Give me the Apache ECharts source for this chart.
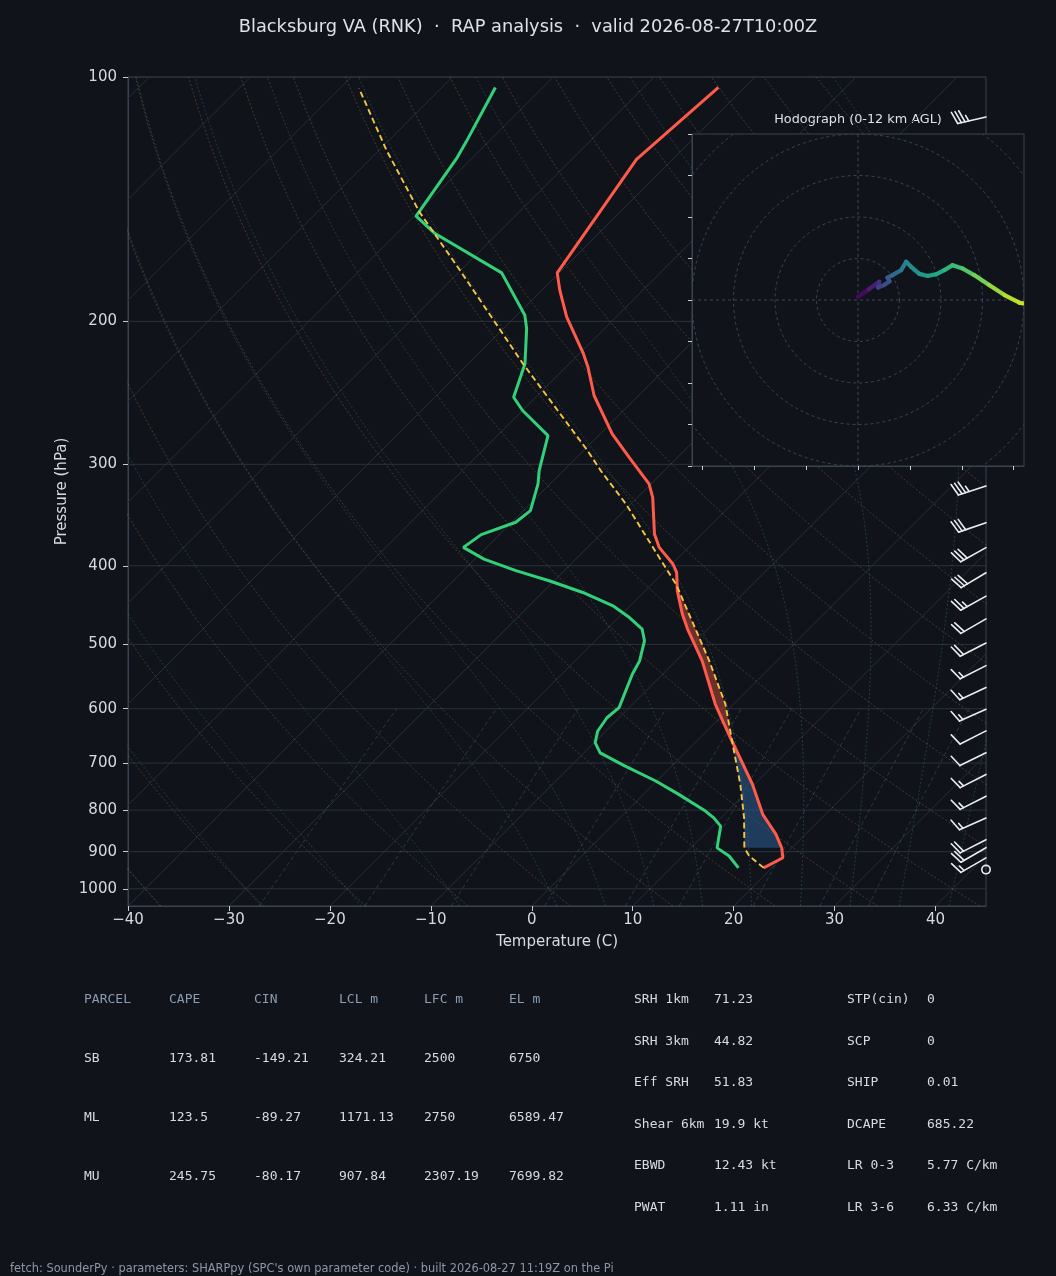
<!DOCTYPE html>
<html>
<head>
<meta charset="utf-8">
<title>Blacksburg VA (RNK) - RAP analysis</title>
<script src="https://cdn.jsdelivr.net/npm/echarts@6/dist/echarts.min.js"></script>
<style>
  html, body { margin: 0; padding: 0; background: #10141a; }
  #chart { width: 1056px; height: 1276px; }
</style>
</head>
<body>
<div id="chart"></div>
<script>
// skew-T / log-p sounding with hodograph inset

// temperature profile (hPa / °C)
const tempP = [942.4, 915.7, 890.4, 857.0, 809.6, 743.4, 645.1, 592.5, 523.9, 478.7, 458.8, 429.5, 407.6, 398.0,
               379.7, 365.5, 329.5, 317.1, 294.1, 275.2, 246.8, 227.8, 219.2, 197.5, 183.2, 174.3, 126.3, 103.0];
const tempT = [19.2, 20.1, 19.0, 17.1, 13.8, 9.8, 2.5, -1.8, -7.4, -12.0, -14.0, -16.8, -18.7, -19.9,
               -22.9, -24.7, -28.5, -30.2, -34.8, -38.8, -44.4, -47.8, -49.6, -54.9, -58.2, -60.2, -63.6, -62.6];

// dewpoint profile
const dewP = [942.4, 911.3, 890.4, 837.2, 817.7, 802.2, 765.0, 736.6, 706.2, 680.0, 660.7, 639.2, 615.6, 598.3,
              544.1, 523.9, 495.0, 478.7, 463.3, 448.1, 431.5, 417.4, 405.6, 392.5, 379.7, 366.2, 353.6, 342.1,
              317.1, 305.4, 276.5, 257.5, 248.0, 225.5, 204.2, 196.6, 174.3, 155.9, 148.4, 126.0, 120.2, 103.0];
const dewT = [16.7, 14.6, 12.6, 10.8, 9.3, 7.8, 3.5, -0.1, -4.6, -8.4, -9.9, -10.8, -11.2, -11.0,
              -13.0, -13.6, -15.1, -16.5, -18.9, -21.7, -26.0, -30.5, -34.8, -39.1, -42.3, -41.8, -39.6, -39.3,
              -41.2, -42.4, -45.0, -50.0, -52.2, -54.4, -57.7, -59.2, -65.7, -76.2, -79.8, -81.5, -82.2, -84.7];

// surface parcel path
const parcelP = [942.4, 911.3, 890.4, 817.7, 743.4, 657.6, 592.5, 523.9, 490.4, 421.4, 390.7, 335.7, 305.4,
                 288.5, 225.5, 173.0, 146.6, 123.0, 103.3];
const parcelT = [19.2, 16.6, 15.3, 12.3, 8.6, 3.5, -0.8, -6.7, -10.0, -17.6, -21.9, -30.5, -36.3,
                 -39.6, -54.6, -70.1, -79.9, -89.3, -98.1];

// shaded layers [bottom hPa, top hPa]
const cinLayer = [890.4, 650];
const capeLayer = [650, 421.4];

// wind barbs (hPa, kt, deg)
const barbP = [112, 319, 354, 380, 408, 436, 465, 498, 531, 565, 601, 639, 680, 723, 769, 818, 870, 890, 916, 947];
const barbSpd = [35, 35, 30, 30, 30, 25, 20, 20, 15, 15, 15, 10, 10, 15, 15, 15, 20, 20, 15, 0];
const barbDir = [257, 252, 251, 241, 239, 241, 240, 243, 243, 245, 246, 243, 244, 243, 243, 246, 243, 240, 240, 0];

// hodograph (u, v) with height km
const hodoU = [0, 2.6, 5.1, 4.8, 6.3, 7.6, 7.1, 8.3, 10.4, 11.6, 12.8, 14.8, 16.8, 18.8, 20.8, 22.8, 25.2, 28.0, 31.6, 35.3, 38.9, 39.7];
const hodoV = [0.8, 2.6, 4.4, 3.0, 3.6, 4.5, 5.4, 6.0, 7.2, 9.2, 8.0, 6.3, 5.8, 6.2, 7.2, 8.4, 7.6, 6.0, 3.6, 1.2, -0.65, -0.8];
const hodoH = [0, 0.6, 1.4, 2.0, 2.5, 2.9, 3.2, 3.6, 4.5, 5.3, 5.7, 6.2, 6.6, 7.0, 7.4, 8.0, 8.5, 9.1, 9.8, 10.4, 10.9, 11.0];
const hodoRings = [10, 20, 30, 40, 50, 60];
const hodoXTicks = [-37.5, -25, -12.5, 0, 12.5, 25, 37.5];

// axis ticks
const pressureTicks = [100, 200, 300, 400, 500, 600, 700, 800, 900, 1000];
const tempTicks = [-40, -30, -20, -10, 0, 10, 20, 30, 40];

// reference lines
const isoTherms = [-130, -120, -110, -100, -90, -80, -70, -60, -50, -40, -30, -20, -10, 0, 10, 20, 30, 40];
const dryT0 = [-40, -30, -20, -10, 0, 10, 20, 30, 40, 50, 60, 70, 80, 90, 100, 110, 120, 130, 140, 150];
const moistT0 = [-40, -30, -20, -10, 0, 5, 10, 15, 20, 25, 30, 35, 40, 45];
const mixRatios = [0.0004, 0.001, 0.002, 0.004, 0.007, 0.01, 0.016, 0.024, 0.032];

// table text
const parcelHeader = ['PARCEL', 'CAPE', 'CIN', 'LCL m', 'LFC m', 'EL m'];
const parcelRows = [
    ['SB', '173.81', '-149.21', '324.21', '2500', '6750'],
    ['ML', '123.5', '-89.27', '1171.13', '2750', '6589.47'],
    ['MU', '245.75', '-80.17', '907.84', '2307.19', '7699.82']
];
const paramNamesA = ['SRH 1km', 'SRH 3km', 'Eff SRH', 'Shear 6km', 'EBWD', 'PWAT'];
const paramValuesA = ['71.23', '44.82', '51.83', '19.9 kt', '12.43 kt', '1.11 in'];
const paramNamesB = ['STP(cin)', 'SCP', 'SHIP', 'DCAPE', 'LR 0-3', 'LR 3-6'];
const paramValuesB = ['0', '0', '0.01', '685.22', '5.77 C/km', '6.33 C/km'];

const titleText = 'Blacksburg VA (RNK)  \u00b7  RAP analysis  \u00b7  valid 2026-08-27T10:00Z';
const footerText = 'fetch: SounderPy \u00b7 parameters: SHARPpy (SPC\'s own parameter code) \u00b7 built 2026-08-27 11:19Z on the Pi';

// layout / style
const BG = '#10141a';
const SPINE = '#3a4350';
const TXT = '#d6dbe1';
const MAIN = { left: 128, top: 77, width: 858, height: 829 };
const HODO = { left: 692, top: 134, width: 332, height: 332 };
const P_TOP = 100, P_BOT = 1050, T_MIN = -40, T_MAX = 45;
// 45 degree skew: °C shift per decade of pressure
const SKEW = (MAIN.height / Math.log10(P_BOT / P_TOP)) / (MAIN.width / (T_MAX - T_MIN));

function skewPt(t, p) {
    return [t + SKEW * Math.log10(P_BOT / p), Math.log10(p)];
}

// pressure levels for reference curves
const refLevels = [];
for (let p = P_BOT; p >= P_TOP; p -= 10) refLevels.push(p);

function satVap(tK) {
    const tc = tK - 273.15;
    return 6.112 * Math.exp(17.67 * tc / (tc + 243.5));
}

function moistLapse(p, tK) {
    const es = satVap(tK);
    const rs = 0.622 * es / (p - es);
    const num = (287.04 * tK + 2.501e6 * rs) / p;
    const den = 1005.7 + (2.501e6 * 2.501e6 * rs * 0.622) / (287.04 * tK * tK);
    return num / den;
}

function moistPath(t0) {
    const step = 5;
    const up = [];
    let t = t0 + 273.15;
    for (let p = 1000; p > P_TOP - 1; p -= step) {
        up.push([t - 273.15, p]);
        const k1 = moistLapse(p, t);
        const k2 = moistLapse(p - step / 2, t - step / 2 * k1);
        const k3 = moistLapse(p - step / 2, t - step / 2 * k2);
        const k4 = moistLapse(p - step, t - step * k3);
        t -= step * (k1 + 2 * k2 + 2 * k3 + k4) / 6;
    }
    const down = [];
    t = t0 + 273.15;
    for (let p = 1000; p < P_BOT; p += step) {
        const k1 = moistLapse(p, t);
        const k2 = moistLapse(p + step / 2, t + step / 2 * k1);
        const k3 = moistLapse(p + step / 2, t + step / 2 * k2);
        const k4 = moistLapse(p + step, t + step * k3);
        t += step * (k1 + 2 * k2 + 2 * k3 + k4) / 6;
        down.push([t - 273.15, p + step]);
    }
    return down.reverse().concat(up);
}

function refSeries(points, color, dash) {
    return {
        type: 'line',
        xAxisIndex: 0,
        yAxisIndex: 0,
        data: points.map(d => skewPt(d[0], d[1])),
        symbol: 'none',
        silent: true,
        animation: false,
        clip: true,
        z: 1,
        lineStyle: { color: color, width: 1, type: dash }
    };
}

const series = [];

// isotherms
isoTherms.forEach(t => {
    series.push(refSeries([[t, P_BOT], [t, P_TOP]], '#262e38', 'solid'));
});

// pressure lines
pressureTicks.forEach(p => {
    series.push({
        type: 'line', data: [[T_MIN, Math.log10(p)], [T_MAX, Math.log10(p)]],
        symbol: 'none', silent: true, animation: false, z: 1,
        lineStyle: { color: '#29313b', width: 1 }
    });
});

// dry adiabats
dryT0.forEach(t0 => {
    const theta = t0 + 273.15;
    const pts = refLevels.map(p => [theta * Math.pow(p / 1000, 0.2857) - 273.15, p]);
    series.push(refSeries(pts, 'rgba(196,134,76,0.32)', [2, 2]));
});

// moist adiabats
moistT0.forEach(t0 => {
    series.push(refSeries(moistPath(t0), 'rgba(70,150,165,0.30)', [2, 2]));
});

// mixing ratio lines
mixRatios.forEach(w => {
    const pts = [];
    for (let p = P_BOT; p >= 600; p -= 10) {
        const e = w * p / (0.622 + w);
        const l = Math.log(e / 6.112);
        pts.push([243.5 * l / (17.67 - l), p]);
    }
    series.push(refSeries(pts, 'rgba(95,135,165,0.32)', [4, 3]));
});

// interpolate a profile in log-p
function interpLogP(P, T, p) {
    for (let i = 0; i < P.length - 1; i++) {
        if (p <= P[i] && p >= P[i + 1]) {
            const f = (Math.log(p) - Math.log(P[i])) / (Math.log(P[i + 1]) - Math.log(P[i]));
            return T[i] + f * (T[i + 1] - T[i]);
        }
    }
    return NaN;
}

function layerPath(P, T, pBot, pTop) {
    const out = [[interpLogP(P, T, pBot), pBot]];
    P.forEach((p, i) => { if (p < pBot && p > pTop) out.push([T[i], p]); });
    out.push([interpLogP(P, T, pTop), pTop]);
    return out;
}

// CIN / CAPE shading
series.push({
    type: 'custom',
    xAxisIndex: 0,
    yAxisIndex: 0,
    clip: true,
    silent: true,
    animation: false,
    z: 3,
    data: [[cinLayer[0], cinLayer[1], 0], [capeLayer[0], capeLayer[1], 1]],
    renderItem: (params, api) => {
        const pBot = api.value(0), pTop = api.value(1), kind = api.value(2);
        const parcel = layerPath(parcelP, parcelT, pBot, pTop);
        const env = layerPath(tempP, tempT, pBot, pTop).reverse();
        const pts = parcel.concat(env).map(d => api.coord(skewPt(d[0], d[1])));
        return {
            type: 'polygon',
            shape: { points: pts },
            style: { fill: kind === 0 ? 'rgba(46,92,150,0.55)' : 'rgba(215,85,60,0.45)', stroke: 'none' }
        };
    }
});

// temperature, dewpoint, parcel
series.push({
    type: 'line', name: 'Temperature',
    data: tempP.map((p, i) => skewPt(tempT[i], p)),
    symbol: 'none', silent: true, animation: false, z: 6,
    lineStyle: { color: '#ff5a4a', width: 3 }
});
series.push({
    type: 'line', name: 'Dewpoint',
    data: dewP.map((p, i) => skewPt(dewT[i], p)),
    symbol: 'none', silent: true, animation: false, z: 6,
    lineStyle: { color: '#33d07a', width: 3 }
});
series.push({
    type: 'line', name: 'Parcel',
    data: parcelP.map((p, i) => skewPt(parcelT[i], p)),
    symbol: 'none', silent: true, animation: false, z: 7,
    lineStyle: { color: '#f5c542', width: 1.9, type: [6, 3.5] }
});

// wind barbs on the right edge
const BARB_LEN = 29;
series.push({
    type: 'custom',
    xAxisIndex: 0,
    yAxisIndex: 0,
    clip: false,
    silent: true,
    animation: false,
    z: 8,
    data: barbP.map((p, i) => [T_MAX, Math.log10(p), barbSpd[i], barbDir[i]]),
    renderItem: (params, api) => {
        const base = api.coord([api.value(0), api.value(1)]);
        const spd = api.value(2);
        const rad = api.value(3) * Math.PI / 180;
        const style = { stroke: '#e9edf1', lineWidth: 1.6, fill: 'none', lineCap: 'round' };
        if (spd < 2.5) {
            return { type: 'circle', shape: { cx: base[0], cy: base[1], r: 4.2 }, style: style };
        }
        const sxv = Math.sin(rad), syv = -Math.cos(rad);
        const nx = -syv, ny = sxv;
        const tip = [base[0] + sxv * BARB_LEN, base[1] + syv * BARB_LEN];
        const children = [{ type: 'line', shape: { x1: base[0], y1: base[1], x2: tip[0], y2: tip[1] }, style: style }];
        const r = Math.round(spd / 5) * 5;
        const full = Math.floor(r / 10);
        const half = r % 10 >= 5;
        const fh = BARB_LEN * 0.42, fw = BARB_LEN * 0.13, gap = BARB_LEN * 0.13;
        let d = BARB_LEN;
        for (let k = 0; k < full; k++) {
            const sx0 = base[0] + sxv * d, sy0 = base[1] + syv * d;
            children.push({ type: 'line', shape: { x1: sx0, y1: sy0, x2: sx0 + nx * fh + sxv * fw, y2: sy0 + ny * fh + syv * fw }, style: style });
            d -= gap;
        }
        if (half) {
            if (full === 0) d -= gap;
            const sx0 = base[0] + sxv * d, sy0 = base[1] + syv * d;
            children.push({ type: 'line', shape: { x1: sx0, y1: sy0, x2: sx0 + nx * fh / 2 + sxv * fw / 2, y2: sy0 + ny * fh / 2 + syv * fw / 2 }, style: style });
        }
        return { type: 'group', children: children };
    }
});

// hodograph rings + crosshair
series.push({
    type: 'custom',
    xAxisIndex: 1,
    yAxisIndex: 1,
    zlevel: 1,
    z: 2,
    clip: true,
    silent: true,
    animation: false,
    data: hodoRings.map(r => [r]),
    renderItem: (params, api) => {
        const c = api.coord([0, 0]);
        const rr = api.size([api.value(0), 0])[0];
        const style = { stroke: '#3a4552', lineWidth: 1, fill: 'none', lineDash: [3, 3] };
        const children = [{ type: 'circle', shape: { cx: c[0], cy: c[1], r: rr }, style: style }];
        if (params.dataIndex === 0) {
            const a = api.coord([-40, 0]), b = api.coord([40, 0]);
            const e = api.coord([0, 40]), f = api.coord([0, -40]);
            children.push({ type: 'line', shape: { x1: a[0], y1: a[1], x2: b[0], y2: b[1] }, style: style });
            children.push({ type: 'line', shape: { x1: e[0], y1: e[1], x2: f[0], y2: f[1] }, style: style });
        }
        return { type: 'group', children: children };
    }
});

// viridis colour for height
const viridis = ['#440154', '#482475', '#414487', '#355f8d', '#2a788e', '#21918c', '#22a884', '#44bf70', '#7ad151', '#bddf26', '#fde725'];
function hexRgb(h) { return [1, 3, 5].map(i => parseInt(h.substr(i, 2), 16)); }
function viridisAt(f) {
    f = Math.max(0, Math.min(1, f)) * (viridis.length - 1);
    const i = Math.min(Math.floor(f), viridis.length - 2);
    const a = hexRgb(viridis[i]), b = hexRgb(viridis[i + 1]);
    const t = f - i;
    return 'rgb(' + a.map((v, k) => Math.round(v + (b[k] - v) * t)).join(',') + ')';
}

// hodograph trace
const hodoSegs = [];
for (let i = 0; i < hodoU.length - 1; i++) {
    hodoSegs.push([hodoU[i], hodoV[i], hodoU[i + 1], hodoV[i + 1], (hodoH[i] + hodoH[i + 1]) / 2]);
}
series.push({
    type: 'custom',
    xAxisIndex: 1,
    yAxisIndex: 1,
    zlevel: 1,
    z: 5,
    clip: true,
    silent: true,
    animation: false,
    data: hodoSegs,
    renderItem: (params, api) => {
        const a = api.coord([api.value(0), api.value(1)]);
        const b = api.coord([api.value(2), api.value(3)]);
        return {
            type: 'line',
            shape: { x1: a[0], y1: a[1], x2: b[0], y2: b[1] },
            style: { stroke: viridisAt(api.value(4) / 12), lineWidth: 4.2, lineCap: 'round' }
        };
    }
});

// text: title, table, footer
const graphics = [
    { type: 'text', x: 528, y: 27, style: { text: titleText, fill: '#dde2e8', font: '17.8px "DejaVu Sans"', textAlign: 'center', textVerticalAlign: 'middle' } },
    { type: 'text', x: 858, y: 120, style: { text: 'Hodograph (0-12 km AGL)', fill: '#dde2e8', font: '12.8px "DejaVu Sans"', textAlign: 'center', textVerticalAlign: 'middle' } },
    { type: 'text', x: 10, y: 1269, style: { text: footerText, fill: '#8b97a7', font: '11.4px "DejaVu Sans"', textAlign: 'left', textVerticalAlign: 'middle' } }
];
const MONO = '13px "DejaVu Sans Mono"';
parcelHeader.forEach((h, j) => {
    graphics.push({ type: 'text', x: 84 + 85 * j, y: 1000, style: { text: h, fill: '#8b9bb1', font: MONO, textVerticalAlign: 'middle' } });
});
parcelRows.forEach((row, i) => {
    row.forEach((v, j) => {
        graphics.push({ type: 'text', x: 84 + 85 * j, y: 1058.5 + 59 * i, style: { text: v, fill: TXT, font: MONO, textVerticalAlign: 'middle' } });
    });
});
const paramRowY = [1000, 1041.5, 1083, 1124.5, 1166, 1207.5];
paramRowY.forEach((y, i) => {
    graphics.push({ type: 'text', x: 634, y: y, style: { text: paramNamesA[i], fill: TXT, font: MONO, textVerticalAlign: 'middle' } });
    graphics.push({ type: 'text', x: 714, y: y, style: { text: paramValuesA[i], fill: TXT, font: MONO, textVerticalAlign: 'middle' } });
    graphics.push({ type: 'text', x: 847, y: y, style: { text: paramNamesB[i], fill: TXT, font: MONO, textVerticalAlign: 'middle' } });
    graphics.push({ type: 'text', x: 927, y: y, style: { text: paramValuesB[i], fill: TXT, font: MONO, textVerticalAlign: 'middle' } });
});

const tickStyle = { show: true, inside: false, length: 5, lineStyle: { color: '#c9ced5', width: 1 } };

const option = {
    backgroundColor: BG,
    animation: false,
    textStyle: { fontFamily: 'DejaVu Sans' },
    grid: [
        Object.assign({ show: true, backgroundColor: 'transparent', borderColor: SPINE, borderWidth: 1, containLabel: false, outerBoundsMode: 'none' }, MAIN),
        Object.assign({ show: true, backgroundColor: BG, borderColor: SPINE, borderWidth: 1, containLabel: false, outerBoundsMode: 'none', zlevel: 1, z: 0 }, HODO)
    ],
    xAxis: [
        {
            type: 'value', gridIndex: 0, min: T_MIN, max: T_MAX,
            name: 'Temperature (C)', nameLocation: 'middle', nameGap: 29, nameMoveOverlap: false,
            nameTextStyle: { color: TXT, fontSize: 15, fontFamily: 'DejaVu Sans' },
            axisLine: { show: true, onZero: false, lineStyle: { color: SPINE } },
            axisTick: Object.assign({ customValues: tempTicks }, tickStyle),
            axisLabel: {
                customValues: tempTicks, color: TXT, fontSize: 15, margin: 7, fontFamily: 'DejaVu Sans',
                formatter: v => String(v).replace('-', '\u2212')
            },
            splitLine: { show: false }
        },
        {
            type: 'value', gridIndex: 1, min: -40, max: 40, zlevel: 1,
            axisLine: { show: true, onZero: false, lineStyle: { color: SPINE } },
            axisTick: Object.assign({ customValues: hodoXTicks }, tickStyle, { length: 4 }),
            axisLabel: { show: false },
            splitLine: { show: false }
        }
    ],
    yAxis: [
        {
            type: 'value', gridIndex: 0, min: Math.log10(P_TOP), max: Math.log10(P_BOT), inverse: true,
            name: 'Pressure (hPa)', nameLocation: 'middle', nameGap: 58, nameRotate: 90, nameMoveOverlap: false,
            nameTextStyle: { color: TXT, fontSize: 15, fontFamily: 'DejaVu Sans' },
            axisLine: { show: true, onZero: false, lineStyle: { color: SPINE } },
            axisTick: Object.assign({ customValues: pressureTicks.map(p => Math.log10(p)) }, tickStyle),
            axisLabel: {
                customValues: pressureTicks.map(p => Math.log10(p)), color: TXT, fontSize: 15, margin: 11,
                fontFamily: 'DejaVu Sans',
                formatter: v => String(Math.round(Math.pow(10, v)))
            },
            splitLine: { show: false }
        },
        {
            type: 'value', gridIndex: 1, min: -40, max: 40, interval: 10, zlevel: 1,
            axisLine: { show: true, onZero: false, lineStyle: { color: SPINE } },
            axisTick: Object.assign({}, tickStyle, { length: 4 }),
            axisLabel: { show: false },
            splitLine: { show: false }
        }
    ],
    graphic: graphics,
    series: series
};

const chart = echarts.init(document.getElementById('chart'));
chart.setOption(option);
</script>
</body>
</html>
